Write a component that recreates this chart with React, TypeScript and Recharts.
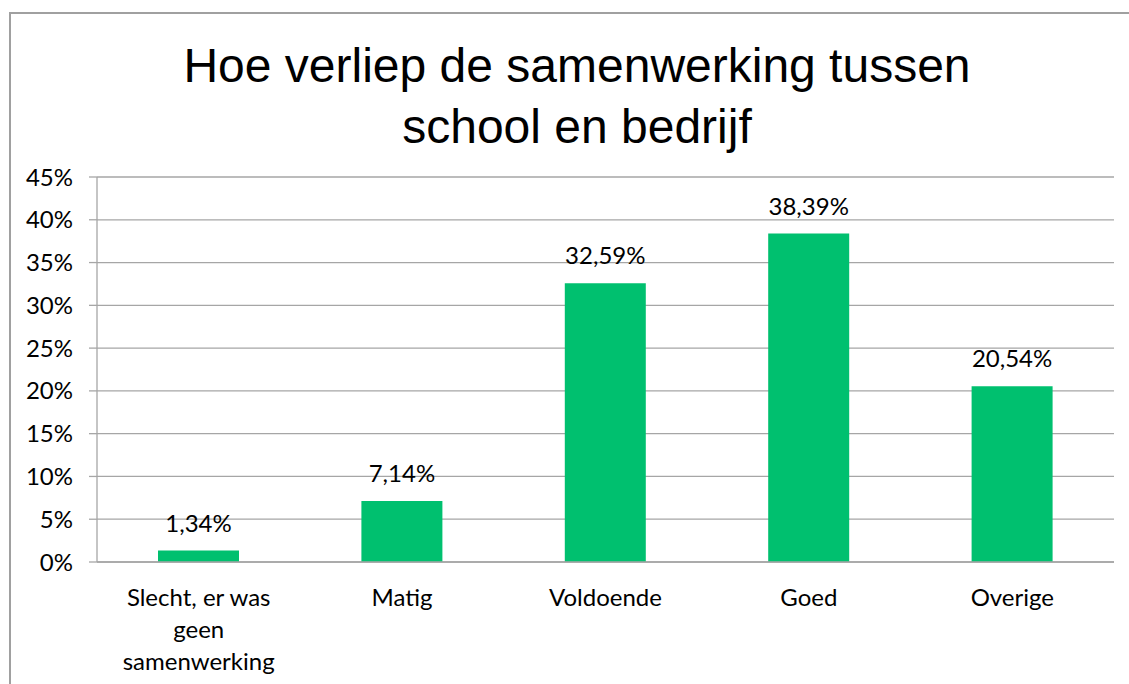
import React from 'react';
import { BarChart, Bar, XAxis, YAxis, CartesianGrid, LabelList } from 'recharts';

const categories = ['Slecht, er was\ngeen\nsamenwerking', 'Matig', 'Voldoende', 'Goed', 'Overige'];
const percentages = [1.34, 7.14, 32.59, 38.39, 20.54];
const yTicks = [0, 5, 10, 15, 20, 25, 30, 35, 40, 45];
const edgeTicks = [0, 1, 2, 3, 4, 5];

const data = categories.map((name, i) => ({ name, value: percentages[i] }));

const GRAY = '#a6a6a6';
const FONT = 'Lato, "Open Sans", sans-serif';
const FS = 24;

const CategoryTick = (props: any) => {
  const { x, y, payload } = props;
  const lines = String(payload.value).split('\n');
  return (
    <text x={x} y={y} textAnchor="middle" fill="#000" fontSize={FS} fontFamily={FONT}>
      {lines.map((line, i) => (
        <tspan key={i} x={x} dy={i === 0 ? 36 : 32}>
          {line}
        </tspan>
      ))}
    </text>
  );
};

export default function App() {
  return (
    <div style={{ position: 'absolute', left: 0, top: 0, width: 1129, height: 684, overflow: 'hidden', background: '#fff' }}>
      <div
        style={{
          position: 'absolute',
          left: 9,
          top: 12,
          width: 1200,
          height: 800,
          border: '2px solid #a0a0a0',
          boxSizing: 'border-box',
        }}
      />
      <div
        style={{
          position: 'absolute',
          left: 0,
          top: 35,
          width: 1154,
          textAlign: 'center',
          fontFamily: '"Liberation Sans", Arial, sans-serif',
          fontSize: 48,
          lineHeight: '61px',
          color: '#000',
        }}
      >
        Hoe verliep de samenwerking tussen
        <br />
        school en bedrijf
      </div>
      <div style={{ position: 'absolute', left: 0, top: 0 }}>
        <BarChart
          width={1129}
          height={684}
          data={data}
          margin={{ top: 177, right: 15, bottom: 0, left: 0 }}
        >
          <CartesianGrid vertical={false} stroke={GRAY} strokeWidth={1.3} />
          <XAxis
            xAxisId="edges"
            type="number"
            domain={[0, 5]}
            ticks={edgeTicks}
            tick={false}
            tickSize={7}
            height={0}
            axisLine={false}
            tickLine={{ stroke: GRAY, strokeWidth: 1.3 }}
          />
          <XAxis
            dataKey="name"
            xAxisId="cat"
            height={122}
            axisLine={{ stroke: GRAY, strokeWidth: 1.3 }}
            tickLine={false}
            interval={0}
            tick={<CategoryTick />}
          />
          <YAxis
            width={97}
            domain={[0, 45]}
            ticks={yTicks}
            interval={0}
            tickFormatter={(v) => `${v}%`}
            tick={{ fill: '#000', fontSize: FS, fontFamily: FONT }}
            tickSize={8}
            tickMargin={16}
            axisLine={{ stroke: GRAY, strokeWidth: 1.3 }}
            tickLine={{ stroke: GRAY, strokeWidth: 1.3 }}
          />
          <Bar dataKey="value" xAxisId="cat" fill="#00c06f" barSize={81} isAnimationActive={false}>
            <LabelList
              dataKey="value"
              position="top"
              offset={19}
              formatter={(v: any) => `${Number(v).toFixed(2).replace('.', ',')}%`}
              style={{ fill: '#000', fontSize: FS, fontFamily: FONT }}
            />
          </Bar>
        </BarChart>
      </div>
    </div>
  );
}
